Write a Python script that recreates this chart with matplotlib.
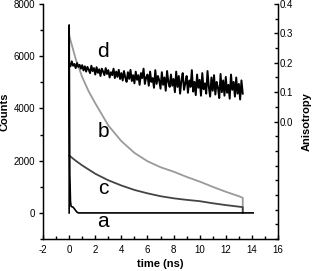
import numpy as np
import matplotlib
matplotlib.use('Agg')
import matplotlib.pyplot as plt
from matplotlib.ticker import MultipleLocator, FixedLocator

plt.rcParams['font.family'] = ['Liberation Sans', 'DejaVu Sans']
plt.rcParams['axes.unicode_minus'] = False

# a: instrument response (counts)
t_a = [0.0, 0.0, 0.05, 0.1, 0.15, 0.3, 0.4, 0.5, 0.6, 0.7, 1.0, 14.1]
a = [0, 7200, 1500, 450, 250, 220, 160, 90, 30, 0, 0, 0]

# b: decay (counts), light gray
t_b = [0.0, 0.5, 1.0, 1.5, 2.0, 3.0, 4.0, 5.0, 6.0, 7.0, 8.0, 9.0, 10.0, 11.0, 12.0, 13.0, 13.3, 13.3]
b = [6800, 5900, 5200, 4650, 4200, 3350, 2750, 2300, 1980, 1750, 1580, 1380, 1200, 1000, 810, 640, 580, 0]

# c: decay (counts), dark gray
t_c = [0.0, 0.5, 1.0, 2.0, 3.0, 4.0, 5.0, 6.0, 7.0, 8.0, 9.0, 10.0, 11.0, 12.0, 13.0, 13.3, 13.3]
c = [2200, 2000, 1820, 1500, 1250, 1050, 880, 750, 640, 560, 500, 450, 370, 300, 240, 220, 0]

# d: anisotropy, 0.1 ns channels from 0 to 13.3 ns
d = [0.200, 0.188, 0.205, 0.190, 0.196, 0.182, 0.199, 0.186, 0.193, 0.180,
     0.192, 0.174, 0.188, 0.170, 0.186, 0.176, 0.165, 0.190, 0.172, 0.182,
     0.160, 0.185, 0.166, 0.178, 0.155, 0.180, 0.170, 0.158, 0.182, 0.162,
     0.175, 0.150, 0.168, 0.158, 0.180, 0.148, 0.170, 0.152, 0.176, 0.145,
     0.165, 0.140, 0.172, 0.150, 0.135, 0.168, 0.145, 0.176, 0.138, 0.158,
     0.130, 0.170, 0.142, 0.158, 0.125, 0.165, 0.148, 0.180, 0.128, 0.150,
     0.160, 0.122, 0.170, 0.135, 0.148, 0.115, 0.175, 0.128, 0.155, 0.140,
     0.112, 0.168, 0.125, 0.150, 0.105, 0.172, 0.135, 0.118, 0.160, 0.122,
     0.145, 0.100, 0.170, 0.118, 0.155, 0.095, 0.140, 0.165, 0.108, 0.130,
     0.155, 0.098, 0.140, 0.118, 0.175, 0.102, 0.135, 0.090, 0.160, 0.115,
     0.142, 0.088, 0.165, 0.110, 0.130, 0.095, 0.172, 0.118, 0.085, 0.150,
     0.105, 0.158, 0.092, 0.135, 0.115, 0.080, 0.162, 0.100, 0.140, 0.088,
     0.152, 0.098, 0.125, 0.078, 0.160, 0.108, 0.135, 0.085, 0.150, 0.095,
     0.128, 0.075, 0.140, 0.095]
t_d = np.round(np.arange(len(d)) * 0.1, 1)

fig = plt.figure(figsize=(3.12, 2.71), dpi=100)
ax = fig.add_axes([0.138, 0.118, 0.753, 0.867])

ax.plot(t_b, b, color='#9a9a9a', lw=1.3)
ax.plot(t_c, c, color='#444444', lw=1.3)
ax.plot(t_a, a, color='black', lw=1.2)

ax.set_xlim(-2, 16)
ax.set_ylim(-1000, 8000)
ax.xaxis.set_major_locator(MultipleLocator(2))
ax.xaxis.set_minor_locator(MultipleLocator(1))
ax.yaxis.set_major_locator(FixedLocator([0, 2000, 4000, 6000, 8000]))
ax.yaxis.set_minor_locator(MultipleLocator(1000))
ax.spines['top'].set_visible(False)
for s in ['left', 'bottom', 'right']:
    ax.spines[s].set_linewidth(1.0)
ax.tick_params(axis='y', which='both', direction='out', labelsize=7, width=1.0, pad=2.5)
ax.tick_params(axis='x', which='both', direction='in', labelsize=7, width=1.0, pad=4)
ax.tick_params(which='major', length=3)
ax.tick_params(which='minor', length=2)
ax.set_xlabel('time (ns)', fontsize=8, fontweight='bold', labelpad=3)

ax2 = ax.twinx()
ax2.plot(t_d, d, color='black', lw=1.4)
ax2.set_ylim(-0.4, 0.4)
ax2.yaxis.set_major_locator(FixedLocator([0.0, 0.1, 0.2, 0.3, 0.4]))
ax2.yaxis.set_minor_locator(MultipleLocator(0.05))
ax2.yaxis.set_major_formatter(plt.FormatStrFormatter('%.1f'))
ax2.spines['top'].set_visible(False)
ax2.tick_params(which='both', direction='in', labelsize=7, width=1.0, pad=1.5)
ax2.tick_params(which='major', length=3)
ax2.tick_params(which='minor', length=2)

fig.text(0.0144, 0.587, 'Counts', rotation=90, ha='center', va='center',
         fontsize=8, fontweight='bold')
fig.text(0.982, 0.553, 'Anisotropy', rotation=90, ha='center', va='center',
         fontsize=8, fontweight='bold')

for lbl, x, y in [('d', 2.6, 6190), ('b', 2.6, 3100), ('c', 2.6, 950), ('a', 2.6, -330)]:
    ax.text(x, y, lbl, fontsize=15, ha='center', va='center')

fig.savefig('out.png', dpi=100)
